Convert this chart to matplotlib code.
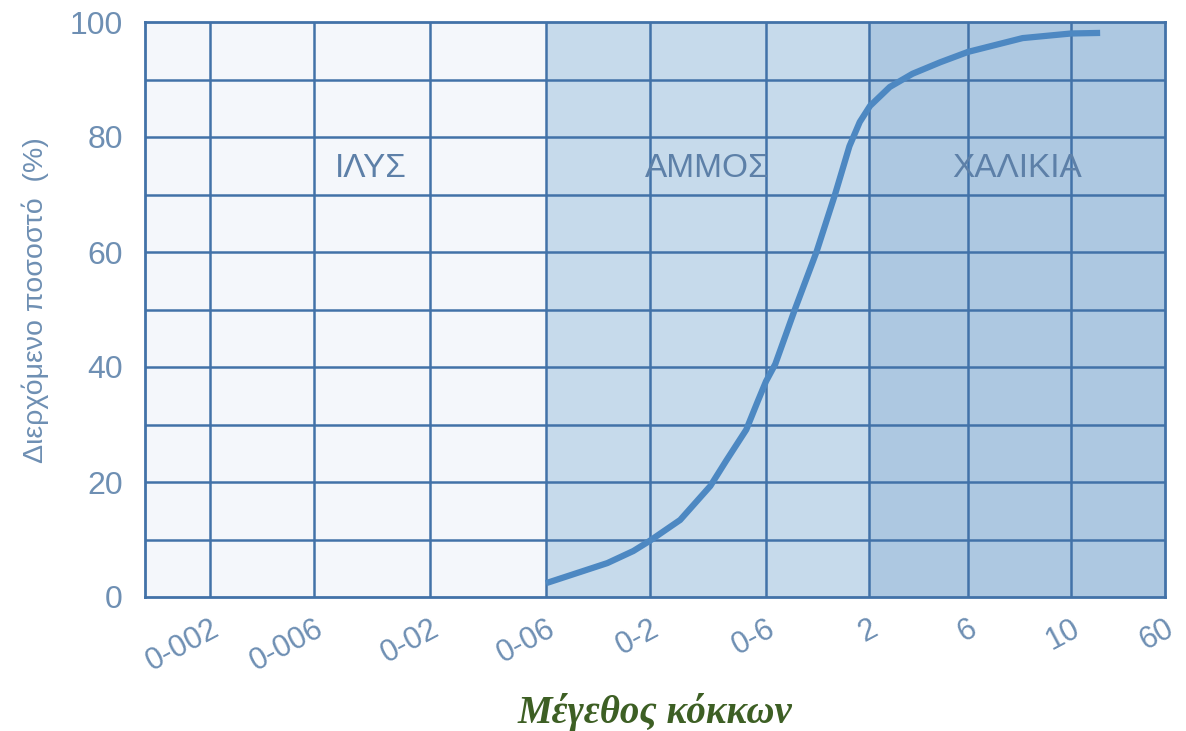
import numpy as np
import matplotlib.pyplot as plt

# grain size classes (x tick labels) and y ticks
sizes = ['0-002', '0-006', '0-02', '0-06', '0-2', '0-6', '2', '6', '10', '60']
yticks = [0, 20, 40, 60, 80, 100]

# grading curve: position in size classes (1 = 0-002 ... 10 = 60), passing %
curve_idx = [4.0, 4.27, 4.59, 4.84, 5.0, 5.26, 5.52, 5.66, 5.83, 5.93, 6.0, 6.09,
             6.28, 6.49, 6.67, 6.81, 6.91, 7.01, 7.21, 7.44, 7.72, 8.0, 8.53, 9.0, 9.31]
curve_pct = [2.4, 4.0, 5.9, 8.0, 9.8, 13.4, 19.3, 23.8, 29.1, 34.1, 37.5, 40.5,
             50.0, 60.0, 70.0, 78.4, 82.6, 85.4, 88.7, 91.0, 93.0, 94.8, 97.2, 98.0, 98.1]

# soil zones: label, from class, to class
zones = ['ΙΛΥΣ', 'ΑΜΜΟΣ', 'ΧΑΛΙΚΙΑ']
zone_from = [0, 4, 7]
zone_to = [4, 7, 10]

# layout: where each class gridline sits (class 0 = left edge)
grid_x = [0, 65, 169, 285, 401, 505, 621, 724, 823, 926, 1020]
zone_colors = ['#f4f7fb', '#c6daeb', '#adc8e1']
label_shift = [25, 0, 0]

def to_x(i):
    return np.interp(i, range(len(grid_x)), grid_x)

sans = 'Liberation Sans'
grid_c = '#4272a8'
txt_c = '#6e8fb3'

fig = plt.figure(figsize=(11.86, 7.31), dpi=100)
ax = fig.add_axes([145/1186, 1-597/731, 1020/1186, 575/731])

for lab, a, b, c, dx in zip(zones, zone_from, zone_to, zone_colors, label_shift):
    ax.axvspan(to_x(a), to_x(b), color=c, lw=0, zorder=0)
    ax.text((to_x(a) + to_x(b)) / 2 + dx, 74.6, lab,
            ha='center', va='center', fontsize=24, color='#5d80a8', family=sans)

for gx in grid_x[1:-1]:
    ax.axvline(gx, color=grid_c, lw=1.8, zorder=1)
for gy in range(10, 100, 10):
    ax.axhline(gy, color=grid_c, lw=1.8, zorder=1)

ax.plot(to_x(curve_idx), curve_pct, color='#4d88c2', lw=4.5, solid_capstyle='butt',
        solid_joinstyle='round', zorder=3)

ax.set_xlim(grid_x[0], grid_x[-1])
ax.set_ylim(0, 100)
for s in ax.spines.values():
    s.set_color(grid_c)
    s.set_linewidth(2)

ax.set_yticks(yticks)
ax.set_yticklabels([str(v) for v in yticks], fontsize=23, color=txt_c, family=sans)
ax.set_xticks(grid_x[1:])
ax.set_xticklabels(sizes, fontsize=22, color=txt_c, family=sans,
                   rotation=28, ha='right', va='top', rotation_mode='anchor')
ax.tick_params(length=0)
ax.tick_params(axis='y', pad=16)
ax.tick_params(axis='x', pad=12)

fig.text(35/1186, 1-300/731, 'Διερχόμενο ποσοστό  (%)', rotation=90, ha='center', va='center',
         fontsize=20.5, color=txt_c, family=sans)
fig.text(655/1186, 1-712/731, 'Μέγεθος κόκκων', ha='center', va='center', fontsize=28,
         color='#3d5f24', family='Liberation Serif', style='italic', weight='bold')

fig.savefig('out.png', dpi=100)
